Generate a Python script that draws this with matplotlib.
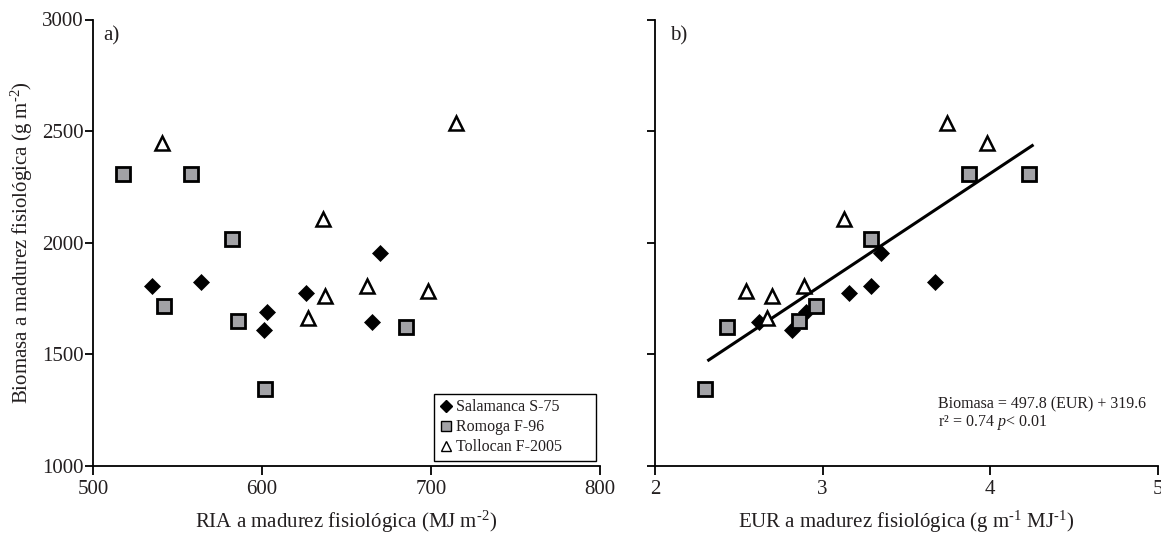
import matplotlib
matplotlib.use("Agg")
import matplotlib.pyplot as plt
from matplotlib.lines import Line2D

plt.rcParams['font.family'] = ['Liberation Serif', 'DejaVu Serif']
plt.rcParams['mathtext.fontset'] = 'custom'
plt.rcParams['mathtext.rm'] = 'Liberation Serif'
plt.rcParams['mathtext.it'] = 'Liberation Serif:italic'

# ---- data ----
# Salamanca S-75
sal_ria = [535, 564, 603, 601, 626, 670, 665]
sal_eur = [3.29, 3.67, 2.90, 2.82, 3.16, 3.35, 2.62]
sal_bio = [1805, 1822, 1688, 1608, 1773, 1955, 1645]
# Romoga F-96
rom_ria = [518, 558, 582, 542, 586, 602, 685]
rom_eur = [4.23, 3.87, 3.29, 2.96, 2.86, 2.30, 2.43]
rom_bio = [2310, 2306, 2015, 1718, 1650, 1347, 1622]
# Tollocan F-2005
tol_ria = [541, 636, 637, 627, 715, 662, 698]
tol_eur = [3.98, 3.13, 2.70, 2.67, 3.74, 2.89, 2.54]
tol_bio = [2447, 2107, 1763, 1665, 2535, 1806, 1784]

fit_slope = 497.8
fit_intercept = 319.6
fit_x = [2.32, 4.25]

a_xticks = [500, 600, 700, 800]
b_xticks = [2, 3, 4, 5]
yticks = [1000, 1500, 2000, 2500, 3000]

TXT = '#231f20'
GRAY = '#a2a2a6'

fig = plt.figure(figsize=(11.61, 5.35), dpi=100)
W, H = 1161, 535
bottom = 1 - 466 / H
height = (466 - 19.5) / H
axa = fig.add_axes([93 / W, bottom, 507 / W, height])
axb = fig.add_axes([655 / W, bottom, 503 / W, height])

dia = dict(marker='D', ms=8.2, mfc='black', mec='black', mew=0.5, ls='none')
sq = dict(marker='s', ms=9.5, mfc=GRAY, mec='black', mew=2.0, ls='none')
tri = dict(marker='^', ms=10, mfc='white', mec='black', mew=1.8, ls='none')

axa.plot(sal_ria, sal_bio, **dia, zorder=3)
axa.plot(rom_ria, rom_bio, **sq, zorder=3)
axa.plot(tol_ria, tol_bio, **tri, zorder=3)

axb.plot(fit_x, [fit_slope * v + fit_intercept for v in fit_x], color='black', lw=2.2, zorder=2)
axb.plot(sal_eur, sal_bio, **dia, zorder=3)
axb.plot(rom_eur, rom_bio, **sq, zorder=4)
axb.plot(tol_eur, tol_bio, **tri, zorder=3)

for ax, xt, xl in [(axa, a_xticks, (500, 800)), (axb, b_xticks, (2, 5))]:
    ax.set_xlim(*xl)
    ax.set_ylim(1000, 3000)
    ax.set_xticks(xt)
    ax.set_yticks(yticks)
    for s in ['top', 'right']:
        ax.spines[s].set_visible(False)
    for s in ['left', 'bottom']:
        ax.spines[s].set_linewidth(1.3)
        ax.spines[s].set_color('black')
    ax.tick_params(direction='out', width=1.3, colors='black',
                   labelsize=15, labelcolor=TXT)
    ax.tick_params(axis='x', length=6.5, pad=3.5)
    ax.tick_params(axis='y', length=5.5, pad=1)
    for lab in ax.get_xticklabels() + ax.get_yticklabels():
        lab.set_clip_on(False)

axb.set_yticklabels([])

HY = '\u2010'
axa.set_ylabel('Biomasa a madurez fisiológica (g m$^{\\mathrm{' + HY + '2}}$)',
               fontsize=15, color=TXT, labelpad=5)
axa.set_xlabel('RIA a madurez fisiológica (MJ m$^{\\mathrm{' + HY + '2}}$)',
               fontsize=15, color=TXT, labelpad=7)
axb.set_xlabel('EUR a madurez fisiológica (g m$^{\\mathrm{' + HY + '1}}$ MJ$^{\\mathrm{' + HY + '1}}$)',
               fontsize=15, color=TXT, labelpad=7)

axa.text(0.02, 0.985, 'a)', transform=axa.transAxes, fontsize=15, color=TXT, va='top', ha='left')
axb.text(0.03, 0.985, 'b)', transform=axb.transAxes, fontsize=15, color=TXT, va='top', ha='left')

axb.text(3.69, 1278, 'Biomasa = 497.8 (EUR) + 319.6', fontsize=11.5, color=TXT, ha='left', va='center')
axb.text(3.69, 1193, r'r² = 0.74 $p$< 0.01', fontsize=11.5, color=TXT, ha='left', va='center')

handles = [
    Line2D([], [], marker='D', ms=6, mfc='black', mec='black', ls='none'),
    Line2D([], [], marker='s', ms=7, mfc=GRAY, mec='black', mew=1.0, ls='none'),
    Line2D([], [], marker='^', ms=7, mfc='white', mec='black', mew=1.0, ls='none'),
]
x0 = (434 - 93) / 507
w = (596 - 434) / 507
y0 = (466 - 461) / 446.5
h = (461 - 395) / 446.5
leg = axa.legend(handles, ['Salamanca S-75', 'Romoga F-96', 'Tollocan F-2005'],
                 loc='lower left', bbox_to_anchor=(x0, y0, w, h), mode='expand',
                 borderaxespad=0,
                 fontsize=11.5, frameon=True, fancybox=False, framealpha=1,
                 edgecolor='black', handlelength=0.8, handletextpad=0.25,
                 labelspacing=0.25, borderpad=0.35)
leg.get_frame().set_linewidth(1.0)
for t in leg.get_texts():
    t.set_color(TXT)

fig.savefig('out.png', dpi=100)
